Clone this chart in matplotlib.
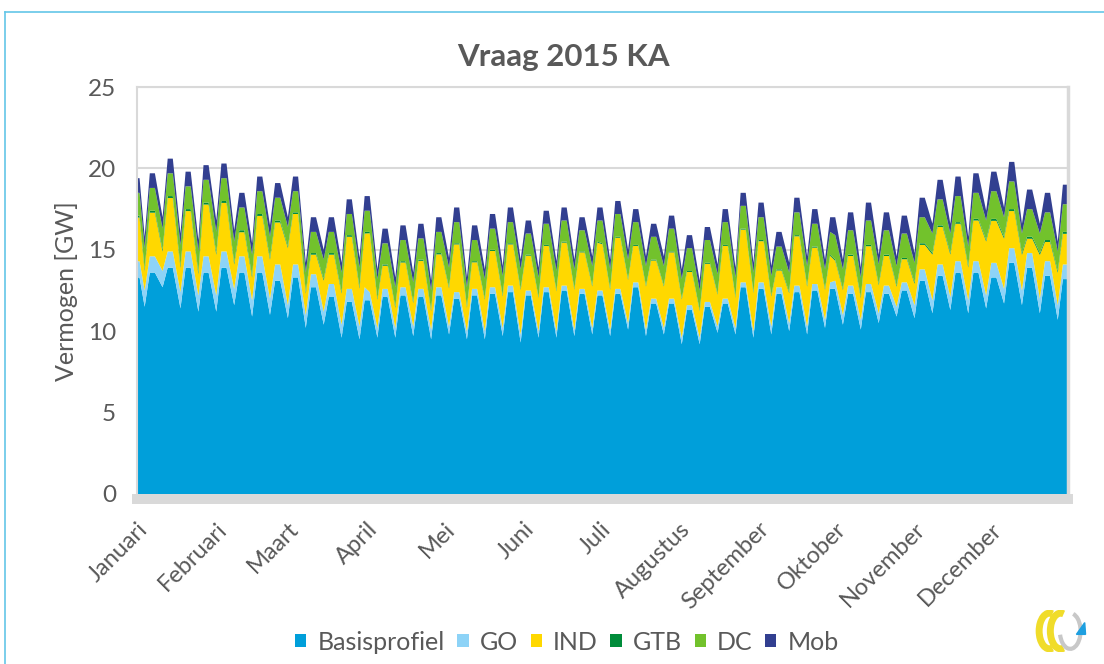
import matplotlib
matplotlib.use("Agg")
import matplotlib.pyplot as plt
import numpy as np
import pandas as pd
from matplotlib.lines import Line2D
from matplotlib.patches import Arc, Polygon

plt.rcParams['font.family'] = ['Lato', 'DejaVu Sans']
GRIJS = '#595959'

maanden = ['Januari', 'Februari', 'Maart', 'April', 'Mei', 'Juni', 'Juli',
           'Augustus', 'September', 'Oktober', 'November', 'December']
reeksen = ['Basisprofiel', 'GO', 'IND', 'GTB', 'DC', 'Mob']
kleuren = ['#009FDA', '#8DD3F7', '#FFD800', '#008C3A', '#72C22C', '#323F90']

# per week (GW): werkdagniveau (53 weken) en zondagdal (52 weken)
basis_werkdag = [13.3, 13.6, 13.9, 13.9, 13.6, 13.9, 13.6, 13.6, 13.1, 13.3,
                 12.7, 12.1, 11.8, 11.9, 12.1, 12.2, 12.1, 12.2, 12.0, 12.2,
                 12.3, 12.4, 12.2, 12.4, 12.5, 12.3, 12.2, 12.3, 12.7, 11.7,
                 11.7, 11.3, 11.5, 11.7, 12.7, 12.6, 12.3, 12.4, 12.5, 12.6,
                 12.3, 12.4, 12.3, 12.5, 13.1, 13.4, 13.6, 13.6, 13.3, 14.2,
                 13.9, 13.4, 13.2]
basis_zondag = [11.5, 12.7, 11.4, 11.2, 11.2, 11.6, 10.9, 11.0, 10.8, 10.2,
                10.4, 9.6, 9.5, 9.6, 9.6, 9.7, 9.5, 9.8, 9.5, 9.5,
                9.7, 9.3, 9.6, 9.6, 9.7, 9.8, 9.7, 10.1, 9.7, 9.8,
                9.2, 9.2, 9.9, 9.8, 9.6, 9.8, 10.0, 9.8, 10.2, 10.4,
                10.1, 10.5, 10.9, 10.8, 11.1, 11.3, 11.1, 11.4, 11.7, 11.6,
                11.1, 10.7]
totaal_werkdag = [19.4, 19.7, 20.6, 19.8, 20.2, 20.3, 18.5, 19.5, 19.1, 19.5,
                  17.0, 17.0, 18.1, 18.3, 16.3, 16.5, 16.6, 17.0, 17.6, 16.5,
                  17.2, 17.6, 16.8, 17.4, 17.6, 17.0, 17.6, 18.0, 17.5, 16.6,
                  17.1, 15.9, 16.4, 17.5, 18.5, 17.9, 16.1, 18.2, 17.5, 17.0,
                  17.3, 17.9, 17.3, 17.1, 18.2, 19.3, 19.5, 19.7, 19.8, 20.4,
                  18.7, 18.5, 19.0]
totaal_zondag = [15.8, 17.0, 16.0, 15.6, 16.8, 16.2, 15.4, 16.5, 17.0, 14.2,
                 15.0, 14.2, 14.5, 13.8, 13.3, 13.6, 13.1, 14.5, 13.3, 13.8,
                 14.0, 14.4, 13.9, 14.3, 14.4, 14.6, 14.4, 15.0, 14.6, 14.6,
                 13.8, 13.1, 14.1, 13.9, 14.2, 14.0, 14.2, 14.6, 14.4, 14.4,
                 13.9, 14.7, 14.6, 14.8, 16.6, 16.6, 15.8, 17.4, 17.6, 16.6,
                 16.6, 15.5]

# per maand (GW): dikte van de dunnere lagen
go_werkdag = [1.0, 1.0, 0.8, 0.5, 0.4, 0.3, 0.3, 0.3, 0.4, 0.5, 0.7, 0.9]
go_weekend = [1.0, 1.0, 0.8, 0.6, 0.5, 0.4, 0.4, 0.4, 0.5, 0.6, 0.8, 0.9]
gtb = [0.12, 0.12, 0.10, 0.08, 0.07, 0.06, 0.06, 0.06, 0.07, 0.08, 0.10, 0.12]
dc_werkdag = [1.4, 1.4, 1.3, 1.3, 1.3, 1.3, 1.4, 1.4, 1.4, 1.5, 1.6, 1.7]
dc_weekend = [1.3, 1.3, 1.2, 1.2, 1.2, 1.2, 1.2, 1.2, 1.2, 1.2, 1.2, 1.2]
mob_werkdag = [0.9, 0.9, 0.9, 0.9, 0.9, 0.8, 0.8, 0.8, 0.9, 1.1, 1.2, 1.2]
mob_weekend = [0.7, 0.7, 0.6, 0.6, 0.6, 0.6, 0.6, 0.6, 0.6, 0.6, 0.6, 0.6]

# dagnummers: 1 jan 2015 = donderdag; punten op di, do (werkdag) en zo (dal)
dagen, hoog, week = [0, 1, 3], [True, True, False], [0, 0, 0]
for w in range(1, 53):
    ma = 4 + 7 * (w - 1)
    dagen += [ma + 1, min(ma + 3, 364)]
    hoog += [True, True]
    week += [w, w]
    if w < 52:
        dagen.append(ma + 6)
        hoog.append(False)
        week.append(w)

start = pd.Timestamp('2015-01-01')
maand_idx = [(start + pd.Timedelta(days=d)).month - 1 for d in dagen]

lagen = {k: [] for k in reeksen}
for h, w, m in zip(hoog, week, maand_idx):
    b = basis_werkdag[w] if h else basis_zondag[w]
    tot = totaal_werkdag[w] if h else totaal_zondag[w]
    go = go_werkdag[m] if h else go_weekend[m]
    dc = dc_werkdag[m] if h else dc_weekend[m]
    mob = mob_werkdag[m] if h else mob_weekend[m]
    lagen['Basisprofiel'].append(b)
    lagen['GO'].append(go)
    lagen['GTB'].append(gtb[m])
    lagen['DC'].append(dc)
    lagen['Mob'].append(mob)
    lagen['IND'].append(tot - b - go - gtb[m] - dc - mob)

fig = plt.figure(figsize=(11.04, 6.64), dpi=100)
W, H = 1104, 664
ax = fig.add_axes([137 / W, 1 - 494 / H, 931 / W, 407 / H])

ax.stackplot(dagen, *[lagen[k] for k in reeksen], colors=kleuren,
             labels=reeksen, linewidth=0)
ax.set_xlim(0, 364)
ax.set_ylim(0, 25)
ax.set_yticks(range(0, 26, 5))
ax.yaxis.grid(True, color='#D9D9D9', linewidth=1.5)
ax.set_axisbelow(True)

for kant in ['left', 'top']:
    ax.spines[kant].set_color('#D9D9D9')
    ax.spines[kant].set_linewidth(1.5)
ax.spines['right'].set_color('#D9D9D9')
ax.spines['right'].set_linewidth(2.5)
ax.spines['bottom'].set_color('#D9D9D9')
ax.spines['bottom'].set_linewidth(7.2)
ax.spines['bottom'].set_position(('outward', 3.6))

ax.tick_params(axis='y', length=0, pad=15, labelsize=17.5, labelcolor=GRIJS)
maand_start = [(pd.Timestamp(2015, m, 1) - start).days for m in range(1, 13)]
ax.set_xticks(maand_start)
ax.set_xticklabels(maanden, rotation=45, ha='right', va='top',
                   rotation_mode='anchor', fontsize=17, color=GRIJS)
ax.tick_params(axis='x', length=0, pad=14)

fig.text(563 / W, 1 - 57 / H, 'Vraag 2015 KA', ha='center', va='center',
         fontsize=22.5, fontweight='bold', color=GRIJS)
fig.text(67 / W, 1 - 291 / H, 'Vermogen [GW]', rotation=90, ha='center',
         va='center', fontsize=18, color=GRIJS)

fig.legend(loc='center', bbox_to_anchor=(567 / W, 1 - 642 / H), ncol=6,
           frameon=False, fontsize=18, handlelength=0.45, handleheight=0.45,
           handletextpad=0.45, columnspacing=0.5, labelcolor=GRIJS)

# lichtblauwe kaderlijnen
rand = '#63C6E8'
fig.add_artist(Line2D([5 / W, 1], [1 - 12 / H] * 2, color=rand, lw=1.2,
                      transform=fig.transFigure))
fig.add_artist(Line2D([5 / W] * 2, [0, 1 - 12 / H], color=rand, lw=1.2,
                      transform=fig.transFigure))

# logo rechtsonder
lg = fig.add_axes([1035 / W, 1 - 652 / H, 58 / W, 42 / H])
lg.set_xlim(0, 1.4)
lg.set_ylim(0, 1)
lg.axis('off')
lg.add_patch(Arc((0.35, 0.5), 0.5, 0.85, theta1=80, theta2=280,
                 color='#F0DC2A', lw=5))
lg.add_patch(Arc((0.62, 0.5), 0.5, 0.85, theta1=80, theta2=280,
                 color='#F0DC2A', lw=5))
lg.add_patch(Arc((0.85, 0.5), 0.5, 0.85, theta1=200, theta2=440,
                 color='#C8C8C8', lw=3))
lg.add_patch(Polygon([[1.0, 0.42], [1.22, 0.42], [1.2, 0.7]],
                     closed=True, color='#1E9FE0'))

fig.savefig('out.png', dpi=100)
